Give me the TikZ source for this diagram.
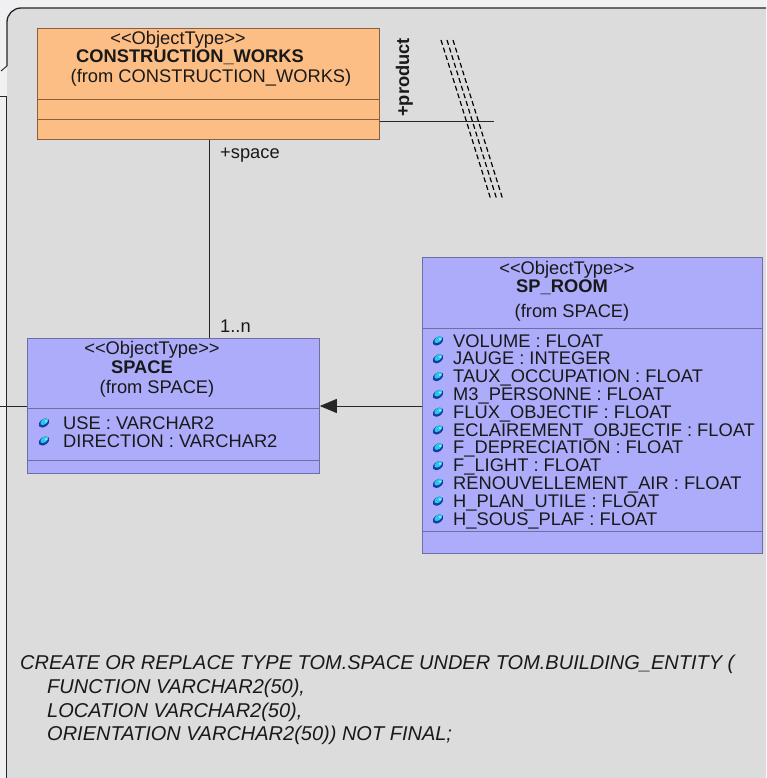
\documentclass[tikz,border=0pt]{standalone}
\usepackage{fontspec}
\setmainfont{Liberation Sans}
\usetikzlibrary{arrows.meta}

\definecolor{outerbg}{RGB}{240,240,242}
\definecolor{panelbg}{RGB}{220,220,220}
\definecolor{cwfill}{RGB}{252,190,132}
\definecolor{cwline}{RGB}{140,95,60}
\definecolor{spfill}{RGB}{172,172,250}
\definecolor{spline}{RGB}{110,110,165}
\definecolor{textc}{RGB}{25,25,25}
\definecolor{iconcyan}{RGB}{40,200,235}
\definecolor{icondark}{RGB}{20,60,160}

\newcommand{\stereo}{<{}<ObjectType>{}>}

\tikzset{
  frame/.style={draw=black!85, line width=1.3pt},
  cwbox/.style={draw=cwline, fill=cwfill, line width=0.8pt, inner sep=0, anchor=north west},
  spbox/.style={draw=spline, fill=spfill, line width=0.8pt, inner sep=0, anchor=north west},
  cwdiv/.style={draw=cwline, line width=0.8pt},
  spdiv/.style={draw=spline, line width=0.8pt},
  assoc/.style={draw=black!85, line width=0.9pt},
  lbl/.style={inner sep=0, text=textc, anchor=base, font=\fontsize{18.3}{18}\selectfont},
  lblb/.style={lbl, font=\fontsize{18.3}{18}\selectfont\bfseries},
  attr/.style={lbl, anchor=base west},
  code/.style={inner sep=0, text=textc, anchor=base west, font=\fontsize{20}{24}\selectfont\itshape},
  breakline/.style={draw=black, line width=1.2pt, dash pattern=on 5pt off 3pt},
  pics/attricon/.style={code={
    \fill[icondark, rotate=35] (0,0) ellipse (5.8 and 3.8);
    \fill[iconcyan, rotate=35] (0.9,-0.9) ellipse (4.4 and 2.7);
    \fill[white!75!iconcyan] (2,-1.8) circle (1);
  }}
}

\begin{document}
\begin{tikzpicture}[x=1pt,y=-1pt]
  \useasboundingbox (0,0) rectangle (766,778);

  % window background and frame
  \fill[outerbg] (0,0) rectangle (766,778);
  \fill[panelbg] (7,778) -- (7,22) arc[start angle=180, end angle=270, radius=14] -- (766,8) -- (766,778) -- cycle;
  \draw[frame] (7,66) -- (7,22) arc[start angle=180, end angle=270, radius=14] -- (766,8);
  \draw[frame, line width=0.9pt] (7,66) -- (1,71);
  \draw[frame, line width=1pt] (0,97) -- (6,97) -- (6,778);

  % CONSTRUCTION_WORKS class
  \node[cwbox, minimum width=342, minimum height=111] (cw) at (37,28) {};
  \coordinate (cwdivA) at (0,99);
  \coordinate (cwdivB) at (0,119);
  \draw[cwdiv] (cw.west |- cwdivA) -- (cw.east |- cwdivA);
  \draw[cwdiv] (cw.west |- cwdivB) -- (cw.east |- cwdivB);
  \node[lbl]  (cwst)   at (178,45) {\stereo};
  \node[lblb] (cwname) at (190,63) {CONSTRUCTION\_WORKS};
  \node[lbl]  (cwfrom) at (211,83) {(from CONSTRUCTION\_WORKS)};

  % SPACE class
  \node[spbox, minimum width=292, minimum height=135] (space) at (27,338) {};
  \coordinate (spdivA) at (0,408);
  \coordinate (spdivB) at (0,460);
  \draw[spdiv] (space.west |- spdivA) -- (space.east |- spdivA);
  \draw[spdiv] (space.west |- spdivB) -- (space.east |- spdivB);
  \node[lbl]  (spst)   at (152,354) {\stereo};
  \node[lblb] (spname) at (142,373) {SPACE};
  \node[lbl]  (spfrom) at (157,393) {(from SPACE)};
  \pic at (44,423) {attricon};
  \node[attr] (spa1) at (63,429) {USE : VARCHAR2};
  \pic at (44,441) {attricon};
  \node[attr] (spa2) at (63,447) {DIRECTION : VARCHAR2};

  % SP_ROOM class
  \node[spbox, minimum width=340, minimum height=296] (room) at (422,257) {};
  \coordinate (rmdivA) at (0,328);
  \coordinate (rmdivB) at (0,531);
  \draw[spdiv] (room.west |- rmdivA) -- (room.east |- rmdivA);
  \draw[spdiv] (room.west |- rmdivB) -- (room.east |- rmdivB);
  \node[lbl]  (rmst)   at (567,274) {\stereo};
  \node[lblb] (rmname) at (562,292) {SP\_ROOM};
  \node[lbl]  (rmfrom) at (572,317) {(from SPACE)};
  \foreach \t [count=\i from 0] in {
      VOLUME : FLOAT,
      JAUGE : INTEGER,
      TAUX\_OCCUPATION : FLOAT,
      M3\_PERSONNE : FLOAT,
      FLUX\_OBJECTIF : FLOAT,
      ECLAIREMENT\_OBJECTIF : FLOAT,
      F\_DEPRECIATION : FLOAT,
      F\_LIGHT : FLOAT,
      RENOUVELLEMENT\_AIR : FLOAT,
      H\_PLAN\_UTILE : FLOAT,
      H\_SOUS\_PLAF : FLOAT} {
    \pgfmathsetmacro{\yy}{347+17.8*\i}
    \pic at (438,\yy-6) {attricon};
    \node[attr] (rma\i) at (453,\yy) {\t};
  }

  % association CONSTRUCTION_WORKS -- SPACE
  \coordinate (asx) at (209,0);
  \draw[assoc] (cw.south -| asx) -- (space.north -| asx);
  \node[lbl, anchor=base west] (rolespace) at (220,159) {+space};
  \node[lbl, anchor=base west] (mult) at (220,332) {1..n};

  % association leaving towards +product
  \coordinate (prodend) at (494,121);
  \draw[assoc] (prodend -| cw.east) -- (prodend);
  \node[lblb, anchor=base west, rotate=90] (roleprod) at (409,117) {+product};

  % broken-link marks
  \draw[breakline] (441,40) -- (491,200);
  \draw[breakline] (447,40) -- (497,200);
  \draw[breakline] (453,40) -- (503,200);

  % generalisation SP_ROOM -> SPACE
  \coordinate (gy) at (0,406);
  \draw[assoc, -{Triangle[length=17pt,width=14pt]}] (room.west |- gy) -- (space.east |- gy);

  % link leaving SPACE to the left
  \coordinate (leftend) at (0,406);
  \draw[assoc] (space.west |- leftend) -- (leftend);

  % type definition
  \node[code] (c1) at (20,669) {CREATE OR REPLACE TYPE TOM.SPACE UNDER TOM.BUILDING\_ENTITY (};
  \node[code] (c2) at (47,693) {FUNCTION VARCHAR2(50),};
  \node[code] (c3) at (47,717) {LOCATION VARCHAR2(50),};
  \node[code] (c4) at (47,740) {ORIENTATION VARCHAR2(50)) NOT FINAL;};
\end{tikzpicture}
\end{document}
